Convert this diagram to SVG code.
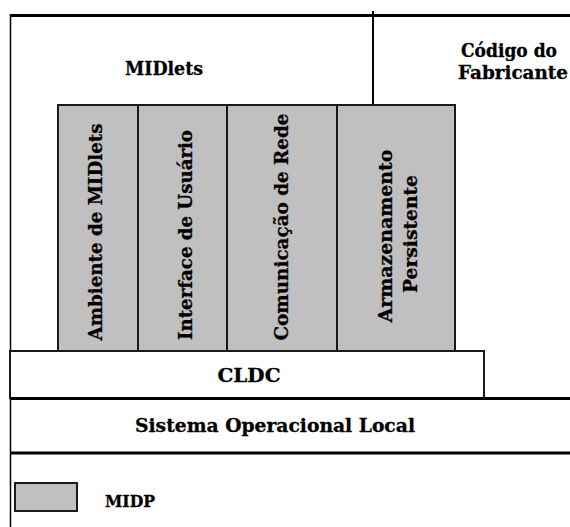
<svg xmlns="http://www.w3.org/2000/svg" width="570" height="527" viewBox="0 0 570 527">
<style>
text{font-family:"DejaVu Serif","Liberation Serif",serif;font-weight:bold;fill:#000;stroke:#000;stroke-width:0.3;}
.h{font-size:18px;text-anchor:middle;}
.v{font-size:19px;text-anchor:middle;}
.ln{stroke:#000;fill:none;}
.g{fill:#c0c0c0;stroke:#1a1a1a;stroke-width:2;}
.w{fill:#fff;stroke:#1a1a1a;stroke-width:2;}
</style>
<rect x="0" y="0" width="570" height="527" fill="#fff"/>
<g id="connectors">
<line class="ln" x1="10.5" y1="14" x2="10.5" y2="527" stroke-width="1.5"/>
<line class="ln" x1="10" y1="15.5" x2="570" y2="15.5" stroke-width="3"/>
<line class="ln" x1="373" y1="11" x2="373" y2="105" stroke-width="2"/>
</g>
<g id="midlets">
<text class="h" x="164" y="75" font-size="17" textLength="78" lengthAdjust="spacingAndGlyphs">MIDlets</text>
</g>
<g id="fabricante">
<text class="h" x="509" y="57" textLength="96" lengthAdjust="spacingAndGlyphs">Código do</text>
<text class="h" x="513" y="79" textLength="110" lengthAdjust="spacingAndGlyphs">Fabricante</text>
</g>
<g id="ambiente">
<rect class="g" x="58" y="105" width="80" height="246"/>
<text class="v" transform="translate(102,232) rotate(-90)" textLength="217" lengthAdjust="spacingAndGlyphs">Ambiente de MIDlets</text>
</g>
<g id="interface">
<rect class="g" x="138" y="105" width="89" height="246"/>
<text class="v" transform="translate(192,235) rotate(-90)" textLength="210" lengthAdjust="spacingAndGlyphs">Interface de Usuário</text>
</g>
<g id="comunicacao">
<rect class="g" x="227" y="105" width="110" height="246"/>
<text class="v" transform="translate(288,227) rotate(-90)" textLength="227" lengthAdjust="spacingAndGlyphs">Comunicação de Rede</text>
</g>
<g id="armazenamento">
<rect class="g" x="337" y="105" width="118" height="246"/>
<text class="v" transform="translate(392,236) rotate(-90)" textLength="173" lengthAdjust="spacingAndGlyphs">Armazenamento</text>
<text class="v" transform="translate(417,234) rotate(-90)" textLength="118" lengthAdjust="spacingAndGlyphs">Persistente</text>
</g>
<g id="cldc">
<rect class="w" x="10" y="351" width="474" height="47"/>
<text class="h" x="249" y="382" font-size="19" textLength="63" lengthAdjust="spacingAndGlyphs">CLDC</text>
</g>
<g id="sistema">
<line class="ln" x1="10" y1="398.5" x2="570" y2="398.5" stroke-width="3"/>
<line class="ln" x1="10" y1="453" x2="570" y2="453" stroke-width="3"/>
<text class="h" x="275" y="432" font-size="19" textLength="280" lengthAdjust="spacingAndGlyphs">Sistema Operacional Local</text>
</g>
<g id="legend">
<rect class="g" x="15" y="483" width="62" height="28" stroke-width="1.5"/>
<text x="105" y="507" font-size="17" textLength="50" lengthAdjust="spacingAndGlyphs">MIDP</text>
</g>
</svg>
